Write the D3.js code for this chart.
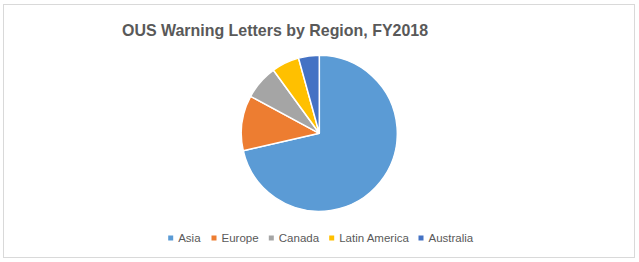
<!DOCTYPE html>
<html><head><meta charset="utf-8">
<script src="https://cdn.jsdelivr.net/npm/d3@7"></script>
<style>body{margin:0;background:#fff}</style>
</head><body>
<svg id="c" width="639" height="262"></svg>
<script>
const categories = ["Asia", "Europe", "Canada", "Latin America", "Australia"];
const values = [50, 8, 5, 4, 3];
const colors = ["#5B9BD5", "#ED7D31", "#A5A5A5", "#FFC000", "#4472C4"];
const title = "OUS Warning Letters by Region, FY2018";

const svg = d3.select("#c");
svg.append("rect").attr("x", 3.5).attr("y", 4.5).attr("width", 631).attr("height", 253)
  .attr("fill", "#fff").attr("stroke", "#d9d9d9").attr("stroke-width", 1);

svg.append("text").attr("x", 275).attr("y", 36).attr("text-anchor", "middle")
  .attr("font-family", "Liberation Sans, Arial, sans-serif").attr("font-weight", "bold")
  .attr("font-size", 17).attr("fill", "#595959")
  .attr("textLength", 306).attr("lengthAdjust", "spacingAndGlyphs").text(title);

const data = categories.map((c, i) => ({ c, v: values[i], col: colors[i] }));
const pie = d3.pie().value(d => d.v).sort(null);
const arc = d3.arc().innerRadius(0).outerRadius(78);
const g = svg.append("g").attr("transform", "translate(319.3,133.3)");
g.selectAll("path").data(pie(data)).join("path")
  .attr("d", arc).attr("fill", d => d.data.col)
  .attr("stroke", "#fff").attr("stroke-width", 1.5).attr("stroke-linejoin", "round");

const legX = [170.7, 214, 271.3, 331.7, 421];
const lg = svg.append("g");
data.forEach((d, i) => {
  lg.append("rect").attr("x", legX[i] - 2.5).attr("y", 235.5).attr("width", 5).attr("height", 5).attr("fill", d.col);
  lg.append("text").attr("x", legX[i] + 7.5).attr("y", 242.3)
    .attr("font-family", "Liberation Sans, Arial, sans-serif").attr("font-size", 11.5)
    .attr("fill", "#595959").text(d.c);
});
</script>
</body></html>
